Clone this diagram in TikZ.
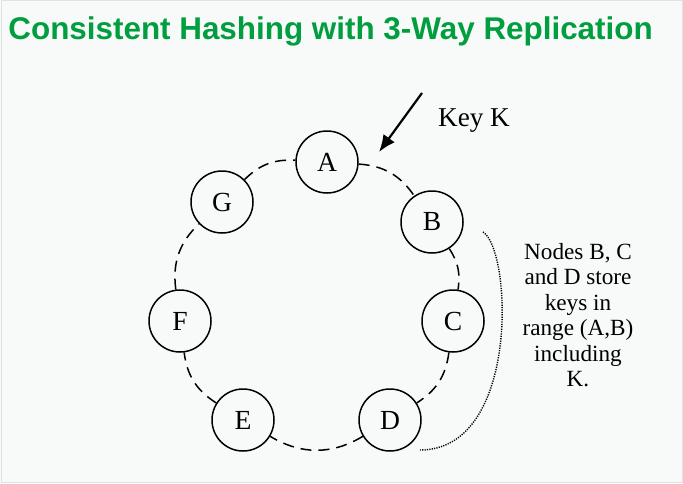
\documentclass[tikz,border=0pt]{standalone}
\usepackage{fontspec}
\setmainfont{Liberation Serif}
\newfontfamily\titlefont{Liberation Sans}
\usepackage{xcolor}
\usepackage{tikz}
\usetikzlibrary{positioning, arrows.meta, calc}

\definecolor{slideBg}{RGB}{248,250,250}
\definecolor{slideEdge}{RGB}{222,228,228}
\definecolor{titleGreen}{RGB}{0,158,62}

\begin{document}
\begin{tikzpicture}[x=0.5pt, y=0.5pt,
    ringNode/.style={circle, draw, line width=0.75pt, minimum size=31pt, inner sep=0pt,
        font=\fontsize{13.8}{16}\selectfont},
    ringEdge/.style={draw, line width=0.75pt, dash pattern=on 5.5pt off 3.5pt},
    replicaRange/.style={draw, line width=0.7pt, dash pattern=on 0.6pt off 0.6pt},
    keyArrow/.style={draw, line width=1.1pt, -{Latex[length=8.5pt, width=7pt]}},
    note/.style={align=center, inner sep=0pt, font=\fontsize{11.6}{12.7}\selectfont}]

    \useasboundingbox (0,0) rectangle (683,483);
    \fill[slideBg] (0,0) rectangle (683,483);
    \draw[slideEdge, line width=0.5pt] (1,1) rectangle (682,482);

    \node[anchor=base west, text=titleGreen, inner sep=0pt,
        font=\titlefont\bfseries\fontsize{15.7}{18}\selectfont] (title) at (8,443)
        {Consistent Hashing with 3-Way Replication};

    % the ring
    \node[ringNode] (A) at (327,321) {A};
    \node[ringNode] (B) at (432,261) {B};
    \node[ringNode] (C) at (453,162) {C};
    \node[ringNode] (D) at (390,63) {D};
    \node[ringNode] (E) at (243,63) {E};
    \node[ringNode] (F) at (180,162) {F};
    \node[ringNode] (G) at (222,281) {G};

    \path[ringEdge] (A) to[bend left=26] (B);
    \path[ringEdge] (B) to[bend left=21] (C);
    \path[ringEdge] (C) to[bend left=25] (D);
    \path[ringEdge] (D) to[bend left=31] (E);
    \path[ringEdge] (E) to[bend left=25] (F);
    \path[ringEdge] (F) to[bend left=27] (G);
    \path[ringEdge] (G) to[bend left=24] (A);

    % key K
    \coordinate (keyStart) at (422,390);
    \coordinate (keyHit) at (379,331);
    \path[keyArrow] (keyStart) -- (keyHit);
    \node[anchor=base, inner sep=0pt, font=\fontsize{13.6}{16}\selectfont] (keyLabel) at (474,357) {Key K};

    % replicas of range (A,B)
    \coordinate (rangeTop) at (483,251);
    \coordinate (rangeEnd) at (420,33);
    \path[replicaRange] (rangeTop) .. controls (512,233) and (520,33) .. (rangeEnd);
    \node[note, anchor=north] (rangeNote) at (578,240)
        {Nodes B, C\\and D store\\keys in\\range (A,B)\\including\\K.};

\end{tikzpicture}
\end{document}
